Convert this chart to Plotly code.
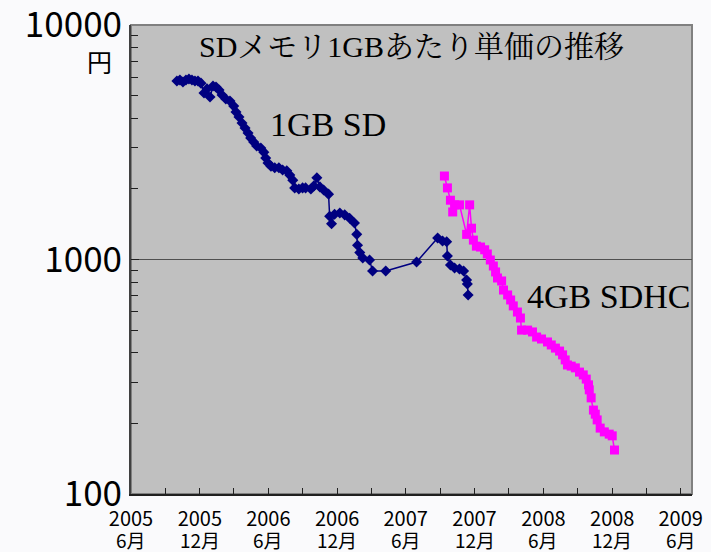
import plotly.graph_objects as go

# ---- data ----
sd_dates = ["2005-10-01","2005-10-09","2005-10-17","2005-10-25","2005-11-02","2005-11-10",
            "2005-11-18","2005-11-26","2005-12-04","2005-12-12","2005-12-20","2005-12-28",
            "2006-01-05","2006-01-13","2006-01-21","2006-01-29","2006-02-08","2006-02-19",
            "2006-03-01","2006-03-07","2006-03-15","2006-03-23","2006-03-31","2006-04-08",
            "2006-04-15","2006-04-23","2006-05-01","2006-05-12","2006-05-20","2006-05-25",
            "2006-05-31","2006-06-08","2006-06-18","2006-06-29","2006-07-09","2006-07-20",
            "2006-07-28","2006-08-05","2006-08-10","2006-08-21","2006-08-31","2006-09-08",
            "2006-09-22","2006-09-30","2006-10-08","2006-10-16","2006-10-26","2006-11-08",
            "2006-11-11","2006-11-16","2006-11-24","2006-12-08","2006-12-21","2007-01-03",
            "2007-01-16","2007-01-22","2007-01-24","2007-01-30","2007-02-07","2007-02-25",
            "2007-03-05","2007-04-09","2007-06-30","2007-08-25","2007-09-07","2007-09-18",
            "2007-09-20","2007-09-28","2007-10-09","2007-10-22","2007-11-02","2007-11-10",
            "2007-11-12","2007-11-14"]
sd_prices = [5770,5830,5710,5830,5890,5830,
             5770,5770,5650,5130,5340,4930,
             5490,5440,5280,5030,4840,4740,
             4510,4260,4050,3820,3640,3460,
             3300,3170,3050,2990,2870,2710,
             2580,2500,2460,2460,2410,2390,
             2290,2180,2020,2000,2020,2020,
             2000,2060,2230,2040,1980,1900,
             1530,1420,1560,1580,1550,1500,
             1430,1280,1150,1070,1015,995,
             893,893,976,1235,1200,1190,
             1035,947,920,911,893,818,
             786,706]

sdhc_dates = ["2007-09-12","2007-09-20","2007-09-28","2007-10-04","2007-10-09","2007-10-22",
              "2007-11-10","2007-11-18","2007-11-23","2007-11-28","2007-12-06","2007-12-17",
              "2007-12-28","2008-01-04","2008-01-12","2008-01-20","2008-01-26","2008-01-31",
              "2008-02-11","2008-02-16","2008-02-27","2008-03-06","2008-03-13","2008-03-24",
              "2008-04-01","2008-04-04","2008-04-20","2008-05-03","2008-05-14","2008-05-27",
              "2008-06-12","2008-06-22","2008-07-03","2008-07-14","2008-07-22","2008-07-29",
              "2008-08-04","2008-08-14","2008-08-25","2008-09-05","2008-09-15","2008-09-23",
              "2008-09-29","2008-10-01","2008-10-06","2008-10-12","2008-10-17","2008-10-22",
              "2008-10-30","2008-11-10","2008-11-23","2008-12-01","2008-12-07"]
sdhc_prices = [2270,2020,1790,1595,1710,1710,
               1280,1710,1360,1210,1140,1130,
               1100,1056,995,938,885,834,
               810,741,706,672,634,597,
               563,500,500,491,467,458,
               445,432,419,407,392,373,
               355,351,345,331,322,309,
               292,278,257,228,219,207,
               191,184,180,177,154]

x_tick_vals = ["2005-06-01","2005-12-01","2006-06-01","2006-12-01","2007-06-01",
               "2007-12-01","2008-06-01","2008-12-01","2009-06-01"]
x_tick_years = ["2005","2005","2006","2006","2007","2007","2008","2008","2009"]
x_tick_months = ["6月","12月","6月","12月","6月","12月","6月","12月","6月"]
y_tick_vals = [100, 1000, 10000]
y_tick_text = ["100", "1000", "10000"]

title_text = "SDメモリ1GBあたり単価の推移"
label_sd = "1GB SD"
label_sdhc = "4GB SDHC"
unit_text = "円"

JP = "Noto Sans CJK JP"
SERIF = "Liberation Serif, Noto Serif CJK JP, Noto Sans CJK JP"

fig = go.Figure()
fig.add_trace(go.Scatter(
    x=sd_dates, y=sd_prices, mode="lines+markers", name=label_sd,
    line=dict(color="#000080", width=1.5),
    marker=dict(symbol="diamond", size=8.5, color="#000080"),
))
fig.add_trace(go.Scatter(
    x=sdhc_dates, y=sdhc_prices, mode="lines+markers", name=label_sdhc,
    line=dict(color="#FF00FF", width=1.5),
    marker=dict(symbol="square", size=9, color="#FF00FF"),
))

# border (top/right grey)
fig.add_shape(type="rect", xref="paper", yref="paper", x0=0, y0=0, x1=1, y1=1,
              line=dict(color="#808080", width=2), layer="below")

annotations = [
    dict(text=title_text, xref="paper", yref="paper", x=0.5, y=0.955,
         xanchor="center", yanchor="middle",
         showarrow=False, font=dict(family=SERIF, size=30, color="#000000")),
    dict(text=label_sd, xref="paper", yref="paper", x=0.352, y=0.787,
         xanchor="center", yanchor="middle",
         showarrow=False, font=dict(family=SERIF, size=34, color="#000000")),
    dict(text=label_sdhc, xref="paper", yref="paper", x=0.851, y=0.422,
         xanchor="center", yanchor="middle",
         showarrow=False, font=dict(family=SERIF, size=34, color="#000000")),
    dict(text=unit_text, xref="paper", yref="paper", x=-0.057, y=0.923,
         xanchor="center", yanchor="middle",
         showarrow=False, font=dict(family=JP, size=25, color="#000000")),
]
for xv, mt in zip(x_tick_vals, x_tick_months):
    annotations.append(dict(text=mt, xref="x", yref="paper", x=xv, y=-0.097,
                            xanchor="center", yanchor="middle", showarrow=False,
                            font=dict(family=JP, size=19, color="#000000")))

fig.update_layout(
    width=711, height=552,
    margin=dict(l=131, r=19, t=25, b=58, autoexpand=False),
    paper_bgcolor="#FAFAFC",
    plot_bgcolor="#C0C0C0",
    showlegend=False,
    annotations=annotations,
    xaxis=dict(
        type="date", range=["2005-06-01", "2009-07-01"],
        tickvals=x_tick_vals, ticktext=x_tick_years,
        ticks="inside", ticklen=6, tickwidth=1, tickcolor="#202020",
        minor=dict(dtick="M3", tick0="2005-06-01", ticks="inside", ticklen=6,
                   tickcolor="#202020", showgrid=False),
        showgrid=False, zeroline=False, automargin=False,
        showline=True, linecolor="#202020", linewidth=2,
        ticklabelstandoff=6, ticklabeloverflow="allow",
        tickfont=dict(family=JP, size=20, color="#000000"),
    ),
    yaxis=dict(
        type="log", range=[1.99995, 4.00005],
        tickvals=y_tick_vals, ticktext=y_tick_text,
        ticks="inside", ticklen=8, tickcolor="#202020",
        minor=dict(ticks="inside", ticklen=7, dtick="D1", tickcolor="#202020", showgrid=False),
        showgrid=True, gridcolor="#505050", gridwidth=1,
        zeroline=False, automargin=False,
        showline=True, linecolor="#404040", linewidth=2,
        ticklabeloverflow="allow",
        tickfont=dict(family=JP, size=35, color="#000000"),
    ),
)

fig.write_html("out.html", config={"displayModeBar": False},
               post_script="document.body.style.margin='0';document.body.style.padding='0';")
